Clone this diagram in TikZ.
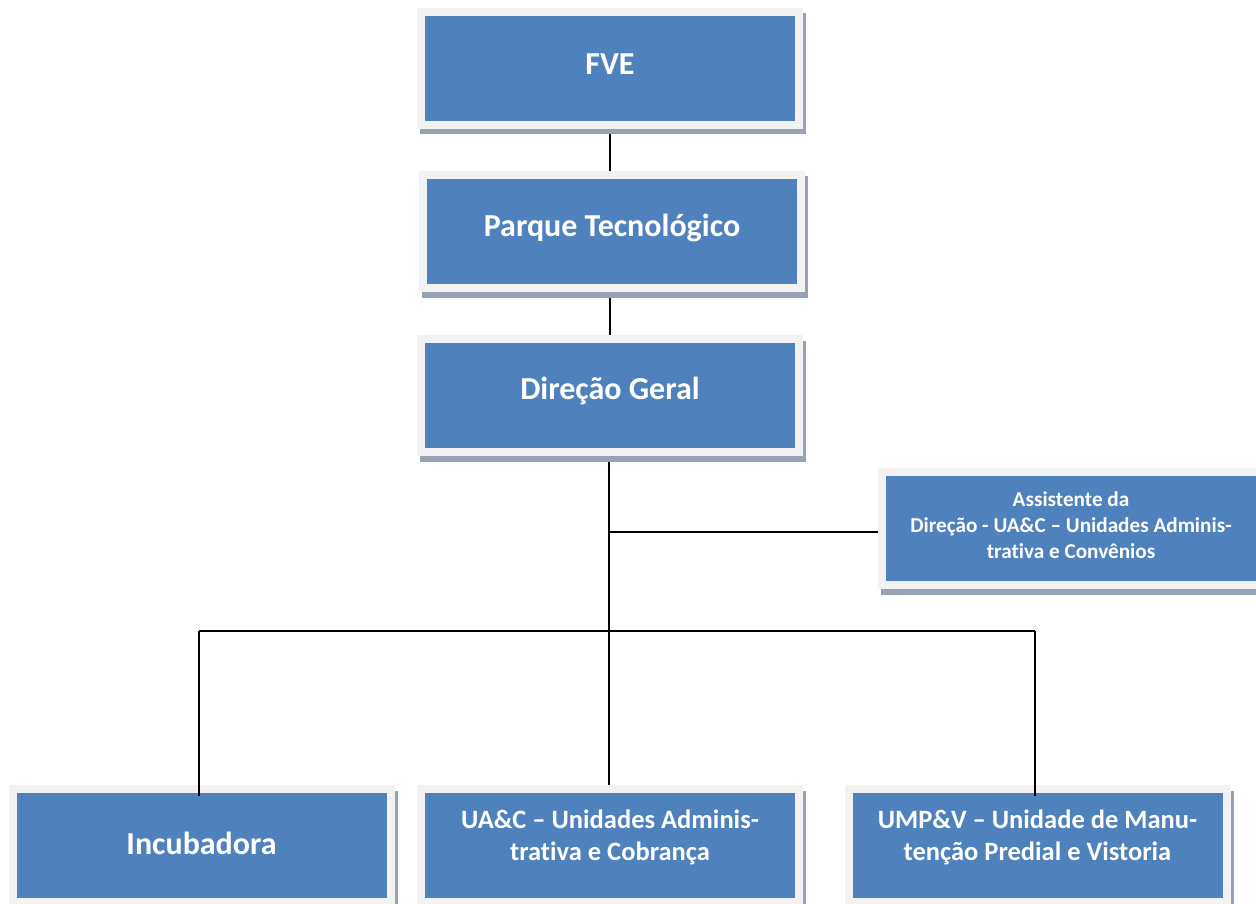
\documentclass[tikz,border=0pt]{standalone}
\usepackage{fontspec}
\setmainfont[Ligatures=NoCommon]{Carlito}
\usetikzlibrary{backgrounds}
\definecolor{boxblue}{HTML}{4F81BD}
\definecolor{framegray}{HTML}{F2F2F2}
\definecolor{shadowgray}{HTML}{97A3B4}
\tikzset{
  orgbox/.style={rectangle, fill=boxblue, inner sep=0pt, minimum width=370pt, minimum height=105pt,
    preaction={draw=shadowgray, fill=shadowgray, line width=16pt, transform canvas={xshift=3pt, yshift=-5.5pt}},
    preaction={draw=framegray, line width=16pt}},
  bigtxt/.style={text=white, font=\bfseries\fontsize{32}{38}\selectfont, align=center, inner sep=0pt},
  midtxt/.style={text=white, font=\bfseries\fontsize{26.5}{32}\selectfont, align=center, inner sep=0pt},
  smalltxt/.style={text=white, font=\bfseries\fontsize{21.2}{26}\selectfont, align=center, inner sep=0pt},
  conn/.style={draw=black, line width=1.6pt}
}
\begin{document}
\begin{tikzpicture}[x=1pt, y=-1pt]
\useasboundingbox (0,0) rectangle (1256,904);
\node[orgbox] (fve) at (610,68.5) {};
\node[orgbox] (parque) at (612,231.5) {};
\node[orgbox] (dir) at (610,395.5) {};
\node[orgbox] (asst) at (1071,528.5) {};
\node[orgbox] (inc) at (201.5,845.5) {};
\node[orgbox] (uac) at (610,845.5) {};
\node[orgbox] (ump) at (1037.5,845.5) {};

\node[bigtxt] (fvet) at ([yshift=4pt]fve.center) {FVE};
\node[bigtxt] (parquet) at ([yshift=4pt]parque.center) {Parque Tecnológico};
\node[bigtxt] (dirt) at ([yshift=5pt]dir.center) {Direção Geral};
\node[smalltxt] (asstt) at ([yshift=3pt]asst.center) {Assistente da\\Direção - UA\&C – Unidades Adminis-\\trativa e Convênios};
\node[bigtxt] (inct) at ([yshift=2pt]inc.center) {Incubadora};
\node[midtxt] (uact) at ([yshift=8.5pt]uac.center) {UA\&C – Unidades Adminis-\\trativa e Cobrança};
\node[midtxt] (umpt) at ([yshift=8.5pt]ump.center) {UMP\&V – Unidade de Manu-\\tenção Predial e Vistoria};

\coordinate (busL) at (199,631);
\coordinate (busR) at (1035,631);
\begin{scope}[on background layer]
  \draw[conn] (fve.south) -- (fve.south |- parque.north);
  \draw[conn] (fve.south |- parque.south) -- (fve.south |- dir.north);
  \draw[conn] ([xshift=-1pt]dir.south) -- ([xshift=-1pt]dir.south |- uac.north);
  \draw[conn] ([xshift=-1pt]dir.south |- 0,532) -- (asst.west |- 0,532);
\end{scope}
\draw[conn] (busL) -- (busR);
\draw[conn] (busL) -- ([yshift=-3pt]busL |- inc.north);
\draw[conn] (busR) -- ([yshift=-3pt]busR |- ump.north);
\end{tikzpicture}
\end{document}
